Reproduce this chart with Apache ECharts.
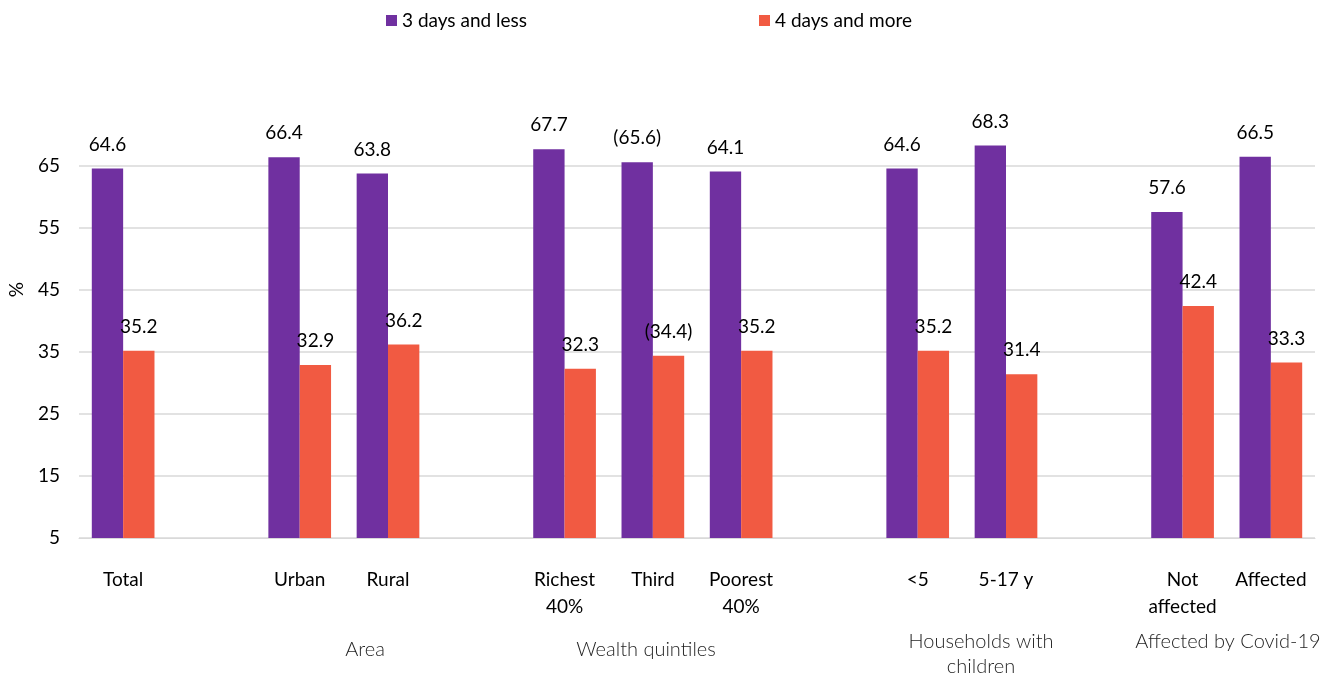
<!DOCTYPE html>
<html>
<head>
<meta charset="utf-8">
<script src="https://cdn.jsdelivr.net/npm/echarts@6/dist/echarts.min.js"></script>
<style>
html,body{margin:0;padding:0;background:#fff;}
#chart{width:1320px;height:676px;}
</style>
</head>
<body>
<div id="chart"></div>
<script>
// ---- data ----
const categories = ['Total', '', 'Urban', 'Rural', '', 'Richest\n40%', 'Third', 'Poorest\n40%', '', '<5', '5-17 y', '', 'Not\naffected', 'Affected'];
const seriesNames = ['3 days and less', '4 days and more'];
const days3Less = [64.6, null, 66.4, 63.8, null, 67.7, 65.6, 64.1, null, 64.6, 68.3, null, 57.6, 66.5];
const days4More = [35.2, null, 32.9, 36.2, null, 32.3, 34.4, 35.2, null, 35.2, 31.4, null, 42.4, 33.3];
const bracketedCategories = ['Third'];
const groupLabels = ['Area', 'Wealth quintiles', 'Households with\nchildren', 'Affected by Covid-19'];
const yTicks = {min: 5, max: 70, interval: 10};
const yAxisTitle = '%';

const FONT = 'Lato, "Noto Sans", sans-serif';
const PURPLE = '#7030A0';
const ORANGE = '#F15A42';

function fmt(p) {
  const s = p.value.toFixed(1);
  return bracketedCategories.indexOf(categories[p.dataIndex]) >= 0 ? '(' + s + ')' : s;
}

const chart = echarts.init(document.getElementById('chart'), null, {renderer: 'canvas'});

const labelCfg = {
  show: true, position: 'top', distance: 14, formatter: fmt,
  fontFamily: FONT, fontSize: 19, lineHeight: 20, color: '#000'
};

const groupFont = '300 20px ' + FONT;
const groupColor = '#1f1f1f';

const option = {
  animation: false,
  backgroundColor: '#fff',
  legend: [
    {data: [seriesNames[0]], left: 381, top: 6, itemWidth: 11, itemHeight: 11, icon: 'rect', itemGap: 5,
     textStyle: {fontFamily: FONT, fontSize: 19, color: '#000'}},
    {data: [seriesNames[1]], left: 754, top: 6, itemWidth: 11, itemHeight: 11, icon: 'rect', itemGap: 5,
     textStyle: {fontFamily: FONT, fontSize: 19, color: '#000'}}
  ],
  grid: {left: 79, right: 5, top: 135, bottom: 138, containLabel: false},
  xAxis: {
    type: 'category',
    data: categories,
    axisLine: {show: true, lineStyle: {color: '#D9D9D9', width: 1}},
    axisTick: {show: false},
    axisLabel: {interval: 0, margin: 28, fontFamily: FONT, fontSize: 19, lineHeight: 27, color: '#000'}
  },
  yAxis: {
    type: 'value',
    min: yTicks.min, max: yTicks.max, interval: yTicks.interval,
    axisLine: {show: false},
    axisTick: {show: false},
    axisLabel: {margin: 19, fontFamily: FONT, fontSize: 19, color: '#000', showMaxLabel: false},
    splitLine: {show: true, showMaxLine: false, lineStyle: {color: '#D9D9D9', width: 1.5}}
  },
  series: [
    {name: seriesNames[0], type: 'bar', data: days3Less, barWidth: '35.5%', barGap: '0%',
     itemStyle: {color: PURPLE}, label: labelCfg},
    {name: seriesNames[1], type: 'bar', data: days4More, barWidth: '35.5%', barGap: '0%',
     itemStyle: {color: ORANGE}, label: labelCfg}
  ],
  graphic: [
    {type: 'text', left: 7, top: 282, rotation: Math.PI / 2,
     style: {text: yAxisTitle, font: '19px ' + FONT, fill: '#000'}},
    {type: 'text', x: 365, y: 650, style: {text: groupLabels[0], font: groupFont, fill: groupColor, textAlign: 'center', textVerticalAlign: 'middle'}},
    {type: 'text', x: 646, y: 650, style: {text: groupLabels[1], font: groupFont, fill: groupColor, textAlign: 'center', textVerticalAlign: 'middle'}},
    {type: 'text', x: 981, y: 654, style: {text: groupLabels[2], font: groupFont, fill: groupColor, textAlign: 'center', textVerticalAlign: 'middle', lineHeight: 25}},
    {type: 'text', x: 1228, y: 642, style: {text: groupLabels[3], font: groupFont, fill: groupColor, textAlign: 'center', textVerticalAlign: 'middle'}}
  ]
};
chart.setOption(option);
</script>
</body>
</html>
